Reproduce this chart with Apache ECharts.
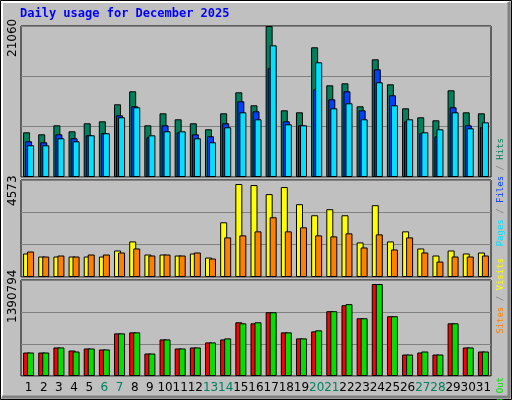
<!DOCTYPE html>
<html><head><meta charset="utf-8">
<script src="https://cdn.jsdelivr.net/npm/echarts@6/dist/echarts.min.js"></script>
<style>html,body{margin:0;padding:0;background:#c0c0c0}#c{width:512px;height:400px}</style>
</head><body><div id="c"></div>
<script>
const days = ['1','2','3','4','5','6','7','8','9','10','11','12','13','14','15','16','17','18','19','20','21','22','23','24','25','26','27','28','29','30','31'];
const weekend = ['6','7','13','14','20','21','27','28'];
const hits = [6234,5955,7211,6374,7490,7768,10139,11953,7211,8884,8047,7490,6653,8884,11813,10000,21060,9303,9024,18089,12789,13068,9861,16416,12929,9582,8326,7908,12092,9024,8884];
const files = [4979,4840,5955,5397,5816,6095,8605,9861,5537,7211,6234,5955,5676,7490,10558,9163,15160,7768,7211,12232,10837,11953,9303,15021,11395,7768,6095,5676,9721,7211,6932];
const pages = [4421,4421,5397,4979,5816,6095,8326,9721,5816,6374,6374,5397,4840,6932,9024,8047,18368,7350,7211,15997,9582,10279,8047,13208,10000,8047,6234,6653,9024,6792,7629];
const visits = [1108,965,965,965,965,965,1250,1677,1060,1060,1013,1108,918,2579,4383,4335,3908,4240,3433,2911,3196,2911,1630,3386,1677,2152,1345,1013,1250,1108,1155];
const sites = [1202,965,1013,965,1060,1060,1155,1345,1013,1060,1013,1155,870,1867,1962,2152,2816,2152,2342,1962,1915,2057,1392,2009,1297,1867,1155,728,965,965,1013];
const kbF = [340410,340410,413355,369588,398766,384177,617601,632190,325821,530067,398766,413355,486300,530067,778080,763491,923970,632190,544656,646779,938559,1026093,836436,1332462,865614,311232,340410,311232,763491,413355,354999];
const kbOut = [340410,340410,413355,354999,398766,384177,617601,632190,325821,530067,398766,413355,486300,544656,763491,778080,923970,632190,544656,661368,938559,1040682,836436,1332462,865614,311232,354999,311232,763491,413355,354999];
const maxTop = 21060, maxMid = 4573, maxBot = 1390794;

const chart = echarts.init(document.getElementById('c'));
const grids = [{left:21,top:26,width:470,height:151},{left:21,top:180,width:470,height:97},{left:21,top:280,width:470,height:96}];
const maxes = [maxTop,maxMid,maxBot];
const bs = (name,data,color,idx,gap,w) => ({type:'bar',name,data,xAxisIndex:idx,yAxisIndex:idx,barWidth:w,barGap:gap,
  itemStyle:{color,borderColor:'#000',borderWidth:1},animation:false,silent:true});
const mono = 'DejaVu Sans Mono';
function sideLabel(y, parts){
  return {type:'text',x:496,y:y,rotation:Math.PI/2,
    style:{text:parts.map(p=>'{'+p[1]+'|'+p[0]+'}').join(''),
      rich:Object.fromEntries(parts.map(p=>[p[1],{fill:p[2],font:'9px '+mono}])),
      verticalAlign:'top',align:'right'}};
}
chart.setOption({
  backgroundColor:'#c0c0c0',
  grid: grids.map(g=>Object.assign({show:true,borderColor:'#000',borderWidth:1,backgroundColor:'#c0c0c0'},g)),
  xAxis: grids.map((g,i)=>({type:'category',gridIndex:i,data:days,axisLine:{show:false},axisTick:{show:false},
    axisLabel:{show:i===2,fontFamily:'DejaVu Sans',fontSize:12,margin:6,interval:0,
      color:(v)=>weekend.includes(v)?'#008060':'#000'}})),
  yAxis: maxes.map((m,i)=>({type:'value',gridIndex:i,min:0,max:m,interval:m/3,axisLabel:{show:false},
    axisLine:{show:false},axisTick:{show:false},splitLine:{lineStyle:{color:'#808080',width:1}}})),
  series:[
    bs('Hits',hits,'#00805c',0,'-71%',7), bs('Files',files,'#0040ff',0,'-71%',7), bs('Pages',pages,'#00e0ff',0,'-71%',7),
    bs('Visits',visits,'#ffff00',1,'-43%',7), bs('Sites',sites,'#ff8000',1,'-43%',7),
    bs('KB F',kbF,'#ff0000',2,'-43%',7), bs('KB Out',kbOut,'#00e000',2,'-43%',7)
  ],
  graphic:[
    {type:'rect',shape:{x:0.5,y:0.5,width:511,height:399},style:{fill:null,stroke:'#000',lineWidth:1}},
    {type:'polyline',shape:{points:[[2,397],[2,2],[509,2]]},style:{stroke:'#fff',lineWidth:2,fill:null}},
    {type:'polyline',shape:{points:[[509,2],[509,397],[2,397]]},style:{stroke:'#808080',lineWidth:3,fill:null}},
    {type:'text',x:20,y:8,style:{text:'Daily usage for December 2025',fill:'#0000ff',font:'bold 12px '+mono}},
    {type:'text',x:7,y:57,rotation:Math.PI/2,style:{text:'21060',fill:'#000',font:'12px DejaVu Sans'}},
    {type:'text',x:7,y:206,rotation:Math.PI/2,style:{text:'4573',fill:'#000',font:'12px DejaVu Sans'}},
    {type:'text',x:7,y:323,rotation:Math.PI/2,style:{text:'1390794',fill:'#000',font:'12px DejaVu Sans'}},
    sideLabel(138,[['Pages','a','#00e0ff'],[' / ','s','#808080'],['Files','b','#0040ff'],[' / ','t','#808080'],['Hits','c','#00805c']]),
    sideLabel(258,[['Sites','a','#ff8000'],[' / ','s','#808080'],['Visits','b','#ffff00']]),
    sideLabel(377,[['KB F','a','#ff0000'],[' / ','s','#808080'],['KB In','b','#0080ff'],[' / ','t','#808080'],['KB Out','c','#00e000']])
  ]
});
</script></body></html>
